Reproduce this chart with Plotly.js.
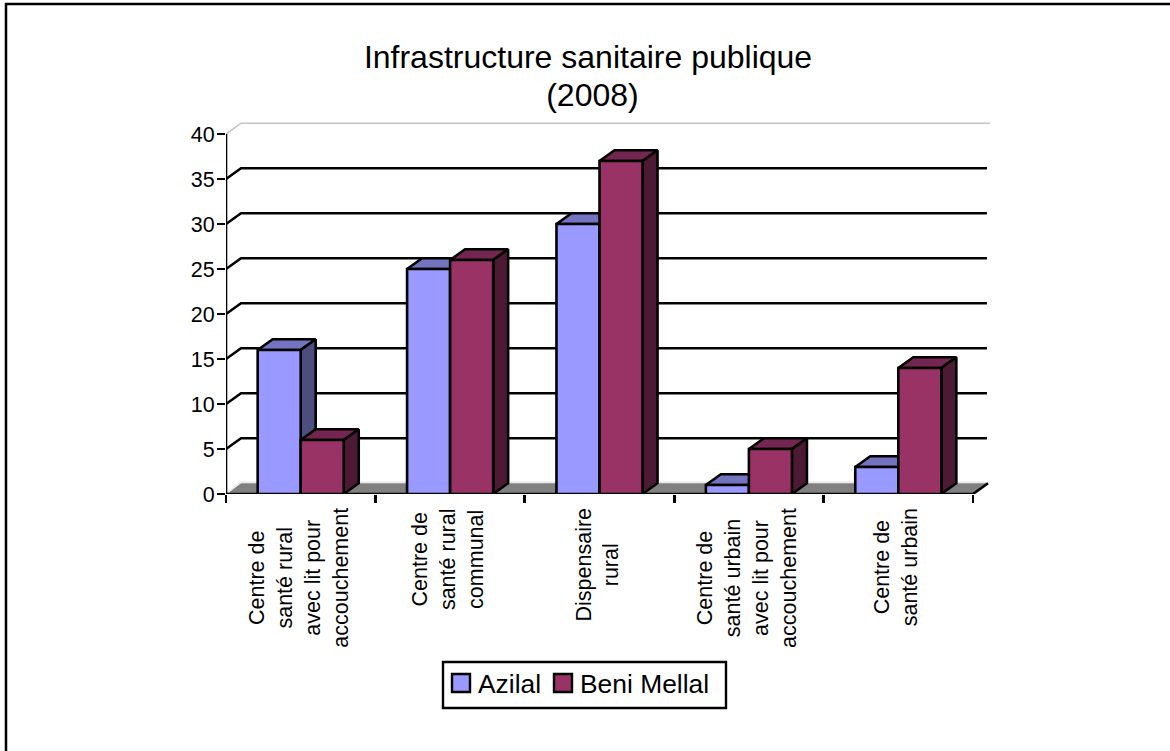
<!DOCTYPE html>
<html>
<head>
<meta charset="utf-8">
<script src="https://cdn.plot.ly/plotly-3.0.1.min.js"></script>
<style>html,body{margin:0;padding:0;background:#fff;overflow:hidden}#chart{width:1170px;height:751px}</style>
</head>
<body>
<div id="chart"></div>
<script>
const categories = [
  "Centre de<br>santé rural<br>avec lit pour<br>accouchement",
  "Centre de<br>santé rural<br>communal",
  "Dispensaire<br>rural",
  "Centre de<br>santé urbain<br>avec lit pour<br>accouchement",
  "Centre de<br>santé urbain"
];
const azilal = [16, 25, 30, 1, 3];
const beniMellal = [6, 26, 37, 5, 14];
const yTicks = [0, 5, 10, 15, 20, 25, 30, 35, 40];
const seriesNames = ["Azilal", "Beni Mellal"];
const seriesColors = ["#9999FF", "#993366"];
const titleLine1 = "Infrastructure sanitaire publique";
const titleLine2 = "(2008)";

const W = 1170, H = 751;
const L = 226, R = 990, T = 115, B = 494;
const pxPerCat = 149.4, pxPerUnit = 9.0;
const depthX = 15 / pxPerCat, depthY = 10.8 / pxPerUnit;
const barW = 0.288;
const nCat = categories.length;
const LW = 2.6;
const xRange = [-0.5, -0.5 + (R - L) / pxPerCat];
const yRange = [0, (B - T) / pxPerUnit];
const px = v => (v - L) / (R - L);
const py = v => (B - v) / (B - T);

function faces(values, leftOffset) {
  const top = {x: [], y: []}, side = {x: [], y: []};
  values.forEach((v, i) => {
    const a = i + leftOffset, b = a + barW;
    top.x.push(a, b, b + depthX, a + depthX, a, null);
    top.y.push(v, v, v + depthY, v + depthY, v, null);
    side.x.push(b, b + depthX, b + depthX, b, b, null);
    side.y.push(0, depthY, v + depthY, v, 0, null);
  });
  return {top, side};
}
function poly(d, color) {
  return {type: 'scatter', mode: 'lines', x: d.x, y: d.y, xaxis: 'x', yaxis: 'y',
    fill: 'toself', fillcolor: color, line: {color: '#000', width: LW},
    hoverinfo: 'skip', showlegend: false, cliponaxis: false};
}
function plain(x, y, color, width) {
  return {type: 'scatter', mode: 'lines', x, y, xaxis: 'x', yaxis: 'y',
    line: {color, width}, hoverinfo: 'skip', showlegend: false, cliponaxis: false};
}

const xL = xRange[0], xE = xRange[0] + nCat;

const floor = {type: 'scatter', mode: 'lines', xaxis: 'x', yaxis: 'y',
  x: [xL, xL + depthX, xE + depthX, xE, xL], y: [0, depthY, depthY, 0, 0],
  fill: 'toself', fillcolor: '#808080', line: {color: '#808080', width: 0},
  hoverinfo: 'skip', showlegend: false, cliponaxis: false};

const gx = [], gy = [];
yTicks.filter(v => v > 0 && v < 40).forEach(v => {
  gx.push(xL, xL + depthX, xE + depthX - 0.007, null);
  gy.push(v, v + depthY, v + depthY, null);
});
const grid = plain(gx, gy, '#000', LW);
const topGrid = plain([xL, xL + depthX, xE + depthX + 0.02], [40, 40 + depthY, 40 + depthY], '#c4c4c4', 1.6);
const zeroGrid = plain([xL, xL + depthX, xE + depthX + 0.02], [0, depthY + 0.1, depthY + 0.1], '#e8e8e8', 1.4);
const axes = plain([xE + depthX, xE, xL, xL], [depthY, 0, 0, 40], '#000', LW);

const az = faces(azilal, -barW);
const bm = faces(beniMellal, 0);

const bars = [
  {type: 'bar', name: seriesNames[0], x: categories, y: azilal, xaxis: 'x2', yaxis: 'y',
   marker: {color: seriesColors[0], line: {color: '#000', width: LW}}, hoverinfo: 'y+name', showlegend: false},
  {type: 'bar', name: seriesNames[1], x: categories, y: beniMellal, xaxis: 'x2', yaxis: 'y',
   marker: {color: seriesColors[1], line: {color: '#000', width: LW}}, hoverinfo: 'y+name', showlegend: false}
];

const traces = [
  floor, zeroGrid, topGrid, grid,
  poly(az.top, '#7373BF'), poly(az.side, '#4D4D80'),
  poly(bm.top, '#732650'), poly(bm.side, '#4D1A33'),
  axes
].concat(bars);

const FONT = '"Liberation Sans", Arial, sans-serif';

const labelAnnotations = categories.map((c, i) => ({
  text: c, textangle: -90, xref: 'x', yref: 'paper', x: i, y: 0, yshift: -12, xshift: -2,
  xanchor: 'center', yanchor: 'top', align: 'center', showarrow: false,
  font: {family: FONT, size: 21.5, color: '#000'}
}));

const legendLeft = [477, 579];
const legendAnnotations = seriesNames.map((n, i) => ({
  text: n, xref: 'paper', yref: 'paper', x: px(legendLeft[i]), y: py(684),
  xanchor: 'left', yanchor: 'middle', showarrow: false, borderpad: 0,
  font: {family: FONT, size: 26.4, color: '#000'}
}));
const swatchLeft = [452, 554];
const legendShapes = [
  {type: 'rect', xref: 'paper', yref: 'paper', x0: px(443), x1: px(726), y0: py(662), y1: py(708),
   fillcolor: '#fff', line: {color: '#000', width: 2.4}, layer: 'below'}
].concat(seriesNames.map((n, i) => ({
  type: 'rect', xref: 'paper', yref: 'paper',
  x0: px(swatchLeft[i]), x1: px(swatchLeft[i] + 18), y0: py(674), y1: py(692),
  fillcolor: seriesColors[i], line: {color: '#000', width: 2.4}, layer: 'below'
})));

const layout = {
  width: W, height: H,
  paper_bgcolor: '#fff', plot_bgcolor: 'rgba(0,0,0,0)',
  margin: {l: L, r: W - R, t: T, b: H - B, pad: 0},
  font: {family: FONT, color: '#000'},
  title: {
    text: `<span style="font-size:32px">${titleLine1}</span><br><span style="font-size:32px">\u00a0${titleLine2}</span>`,
    font: {family: FONT, size: 29.2, color: '#000'},
    x: 588 / W, xref: 'container', xanchor: 'center',
    y: 1 - 68 / H, yref: 'container', yanchor: 'top', pad: {t: 0, b: 0, l: 0, r: 0}
  },
  barmode: 'group', bargap: 1 - 2 * barW, bargroupgap: 0,
  xaxis: {
    range: xRange, type: 'linear', fixedrange: true,
    tickmode: 'array', tickvals: categories.concat('').map((_, i) => i - 0.5),
    showticklabels: false, ticks: 'outside', ticklen: 8, tickwidth: LW, tickcolor: '#000',
    showgrid: false, zeroline: false, showline: false
  },
  xaxis2: {
    type: 'category', overlaying: 'x', visible: false, fixedrange: true,
    categoryorder: 'array', categoryarray: categories, range: xRange
  },
  yaxis: {
    range: yRange, fixedrange: true, tickmode: 'array', tickvals: yTicks,
    ticks: 'outside', ticklen: 8, tickwidth: LW, tickcolor: '#000', ticklabelstandoff: -2,
    tickfont: {family: FONT, size: 21.5, color: '#000'},
    showgrid: false, zeroline: false, showline: false
  },
  showlegend: false,
  annotations: labelAnnotations.concat(legendAnnotations),
  shapes: [
    {type: 'line', xref: 'paper', yref: 'paper', layer: 'below',
     x0: px(6), x1: px(6), y0: py(3), y1: py(H),
     line: {color: '#000', width: 2.5}},
    {type: 'line', xref: 'paper', yref: 'paper', layer: 'below',
     x0: px(5), x1: px(W), y0: py(4), y1: py(4),
     line: {color: '#000', width: 2.5}}
  ].concat(legendShapes)
};
Plotly.newPlot('chart', traces, layout, {displayModeBar: false, staticPlot: true});
</script>
</body>
</html>
